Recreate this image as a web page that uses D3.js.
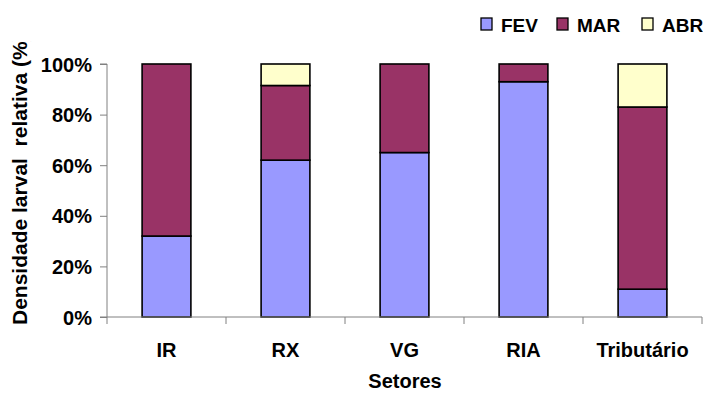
<!DOCTYPE html>
<html><head><meta charset="utf-8">
<script src="https://cdn.jsdelivr.net/npm/d3@7"></script>
<style>body{margin:0;background:#fff}svg{display:block;font-family:"Liberation Sans",Arial,sans-serif;font-weight:bold}</style>
</head><body>
<svg id="c" width="703" height="394"></svg>
<script>
const categories = ["IR","RX","VG","RIA","Tributário"];
const seriesNames = ["FEV","MAR","ABR"];
const FEV = [32, 62, 65, 93, 11];
const MAR = [68, 29.5, 35, 7, 72];
const ABR = [0, 8.5, 0, 0, 17];
const yTicks = [0,20,40,60,80,100];
const colors = ["#9999FF","#993366","#FFFFCC"];

const svg = d3.select("#c");
const m = {l:107, r:702, t:64, b:317};
const x = d3.scaleBand().domain(categories).range([m.l, m.r]).paddingInner(0.59).paddingOuter(0.295);
const y = d3.scaleLinear().domain([0,100]).range([m.b, m.t]);

const rows = categories.map((c,i)=>({cat:c, FEV:FEV[i], MAR:MAR[i], ABR:ABR[i]}));
const stack = d3.stack().keys(seriesNames)(rows);

svg.append("g").selectAll("g").data(stack).join("g")
  .attr("fill",(d,i)=>colors[i])
  .selectAll("rect").data(d=>d.filter(p=>p[1]-p[0]>0)).join("rect")
  .attr("x",d=>x(d.data.cat)).attr("width",x.bandwidth())
  .attr("y",d=>y(d[1])).attr("height",d=>y(d[0])-y(d[1]))
  .attr("stroke","#000").attr("stroke-width",1.6);

// y axis
const ya = svg.append("g").attr("transform",`translate(${m.l},0)`)
  .call(d3.axisLeft(y).tickValues(yTicks).tickFormat(d=>d+"%").tickSize(7));
ya.select(".domain").attr("stroke","#808080").attr("d",`M-7,${m.t}H0V${m.b}H-7`);
ya.selectAll(".tick line").attr("stroke","#808080");
ya.selectAll(".tick text").attr("font-size","20px").attr("font-family","Liberation Sans, Arial").attr("font-weight","bold").attr("fill","#000").attr("x",-15).attr("dy","0.35em");

// x axis
const xa = svg.append("g").attr("transform",`translate(0,${m.b})`);
xa.append("line").attr("x1",m.l).attr("x2",m.r).attr("stroke","#808080");
const step = (m.r-m.l)/categories.length;
d3.range(categories.length+1).forEach(i=>{
  xa.append("line").attr("x1",m.l+i*step).attr("x2",m.l+i*step).attr("y1",0).attr("y2",7).attr("stroke","#808080");
});
xa.selectAll("text.cat").data(categories).join("text").attr("class","cat")
  .attr("x",d=>x(d)+x.bandwidth()/2).attr("y",40).attr("text-anchor","middle")
  .attr("font-size","20px").text(d=>d);

svg.append("text").attr("x",405).attr("y",388).attr("text-anchor","middle").attr("font-size","20px").text("Setores");

svg.append("defs").append("clipPath").attr("id","yclip").append("rect").attr("x",0).attr("y",41).attr("width",60).attr("height",353);
svg.append("g").attr("clip-path","url(#yclip)").append("text")
  .attr("transform","translate(27,325) rotate(-90)").attr("text-anchor","start").attr("font-size","21px")
  .attr("xml:space","preserve").text("Densidade larval  relativa (%)");

// legend
const lx = [481,557,642];
const lg = svg.append("g");
seriesNames.forEach((s,i)=>{
  lg.append("rect").attr("x",lx[i]).attr("y",18).attr("width",11).attr("height",12).attr("fill",colors[i]).attr("stroke","#000").attr("stroke-width",1.3);
  lg.append("text").attr("x",lx[i]+20).attr("y",32).attr("font-size","19px").text(s);
});
</script>
</body></html>
